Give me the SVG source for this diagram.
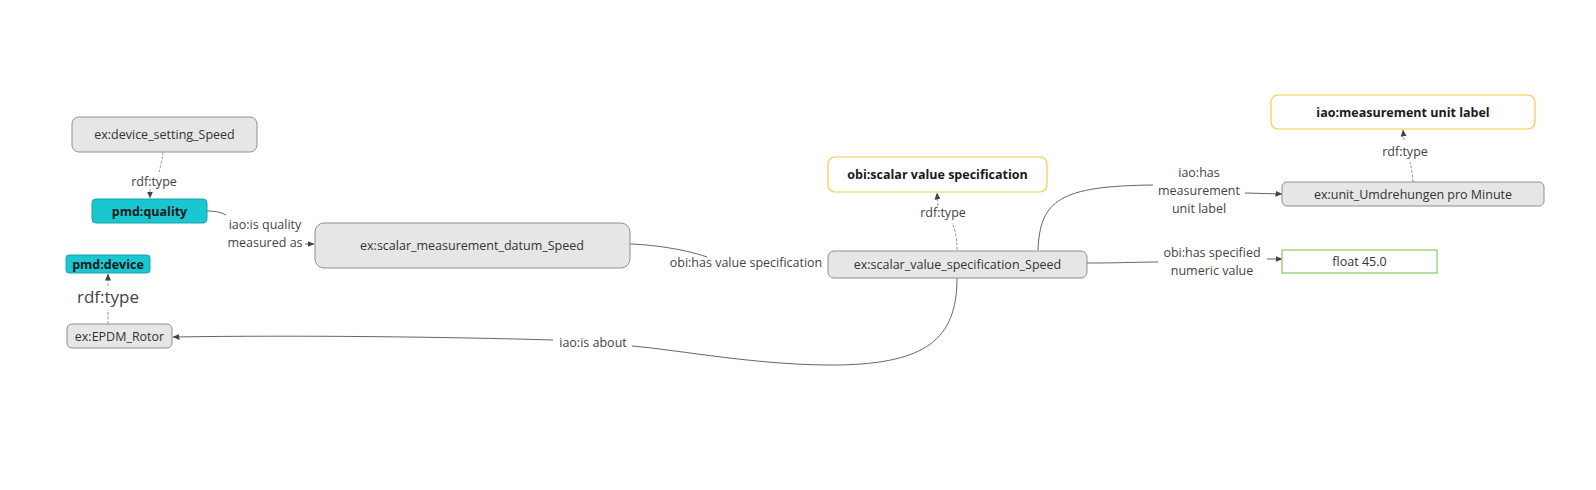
<svg xmlns="http://www.w3.org/2000/svg" width="1596" height="490" viewBox="0 0 1596 490">
<defs>
<marker id="arr" markerWidth="7" markerHeight="6" refX="6.5" refY="3" orient="auto" markerUnits="userSpaceOnUse">
<path d="M0,0 L7,3 L0,6 z" fill="#444"/>
</marker>
<style>
.n rect{fill:#e6e6e6;stroke:#8f8f8f;stroke-width:1}
.c rect{fill:#1ac6cf;stroke:#14a5ad;stroke-width:1}
.y rect{fill:#ffffff;stroke:#f2cc3f;stroke-width:1.2}
.g rect{fill:#ffffff;stroke:#8dc95e;stroke-width:1.2}
text{font-family:"Open Sans","Noto Sans","DejaVu Sans",sans-serif;font-size:12.5px;fill:#333;text-anchor:middle;dominant-baseline:central}
.b{font-weight:bold;fill:#1a1a1a}
.e path{fill:none;stroke:#666;stroke-width:1}
.e path.d{stroke:#8a8a8a;stroke-width:0.9;stroke-dasharray:3 1.5}
.e text{fill:#444}
</style>
</defs>
<rect width="1596" height="490" fill="#ffffff"/>

<g class="e" id="connectors">
<path class="d" d="M163,152 Q162,162 159,172"/>
<text x="154" y="181">rdf:type</text>
<path class="d" d="M150,189 L150,198" marker-end="url(#arr)"/>

<path class="d" d="M108,324 L108,310"/>
<text x="108" y="296" style="font-size:17px">rdf:type</text>
<path class="d" d="M108,286 L108,274" marker-end="url(#arr)"/>

<path d="M207,211 C215,211 221,212 226,215"/>
<text x="265" y="224">iao:is quality</text>
<text x="265" y="242">measured as</text>
<path d="M305,244 L314,244" marker-end="url(#arr)"/>

<path d="M630,244 C660,245 690,251 707,257"/>
<text x="746" y="262">obi:has value specification</text>

<path d="M957,278 C957,340 925,363 840,365 C760,366 680,350 632,346"/>
<text x="593" y="342">iao:is about</text>
<path d="M553,340 C450,337 300,335 173,337" marker-end="url(#arr)"/>

<path class="d" d="M957,250 C957,235 954,227 952,223"/>
<text x="943" y="212">rdf:type</text>
<path class="d" d="M938,206 L937,193" marker-end="url(#arr)"/>

<path d="M1038,250 C1040,200 1060,186 1153,185"/>
<text x="1199" y="172">iao:has</text>
<text x="1199" y="190">measurement</text>
<text x="1199" y="208">unit label</text>
<path d="M1245,193 L1282,194" marker-end="url(#arr)"/>

<path d="M1087,263 C1120,263 1140,262 1158,262"/>
<text x="1212" y="252">obi:has specified</text>
<text x="1212" y="270">numeric value</text>
<path d="M1267,259 L1282,259" marker-end="url(#arr)"/>

<path class="d" d="M1413,182 C1412,172 1411,166 1410,162"/>
<text x="1405" y="151">rdf:type</text>
<path class="d" d="M1404,140 L1403,130" marker-end="url(#arr)"/>
</g>

<g id="device_setting" class="n"><rect x="72" y="117" width="185" height="35" rx="7"/><text x="164.5" y="134.5">ex:device_setting_Speed</text></g>
<g id="pmd_quality" class="c"><rect x="92" y="199" width="115" height="24" rx="4"/><text class="b" x="149.5" y="211">pmd:quality</text></g>
<g id="pmd_device" class="c"><rect x="66" y="255" width="84" height="18" rx="3"/><text class="b" x="108" y="264">pmd:device</text></g>
<g id="epdm_rotor" class="n"><rect x="67" y="324" width="105" height="24" rx="5"/><text x="119.5" y="336">ex:EPDM_Rotor</text></g>
<g id="scalar_measurement" class="n"><rect x="315" y="223" width="315" height="45" rx="9"/><text x="472" y="245.5">ex:scalar_measurement_datum_Speed</text></g>
<g id="obi_svs" class="y"><rect x="828" y="157" width="219" height="35" rx="7"/><text class="b" x="937.5" y="174.5">obi:scalar value specification</text></g>
<g id="scalar_value_spec" class="n"><rect x="828" y="251" width="259" height="27" rx="6"/><text x="957.5" y="264.5">ex:scalar_value_specification_Speed</text></g>
<g id="iao_mul" class="y"><rect x="1271" y="95" width="264" height="34" rx="7"/><text class="b" x="1403" y="112">iao:measurement unit label</text></g>
<g id="unit" class="n"><rect x="1282" y="182" width="262" height="24" rx="5"/><text x="1413" y="194">ex:unit_Umdrehungen pro Minute</text></g>
<g id="float" class="g"><rect x="1282" y="250" width="155" height="23"/><text x="1359.5" y="261.5">float 45.0</text></g>
</svg>
